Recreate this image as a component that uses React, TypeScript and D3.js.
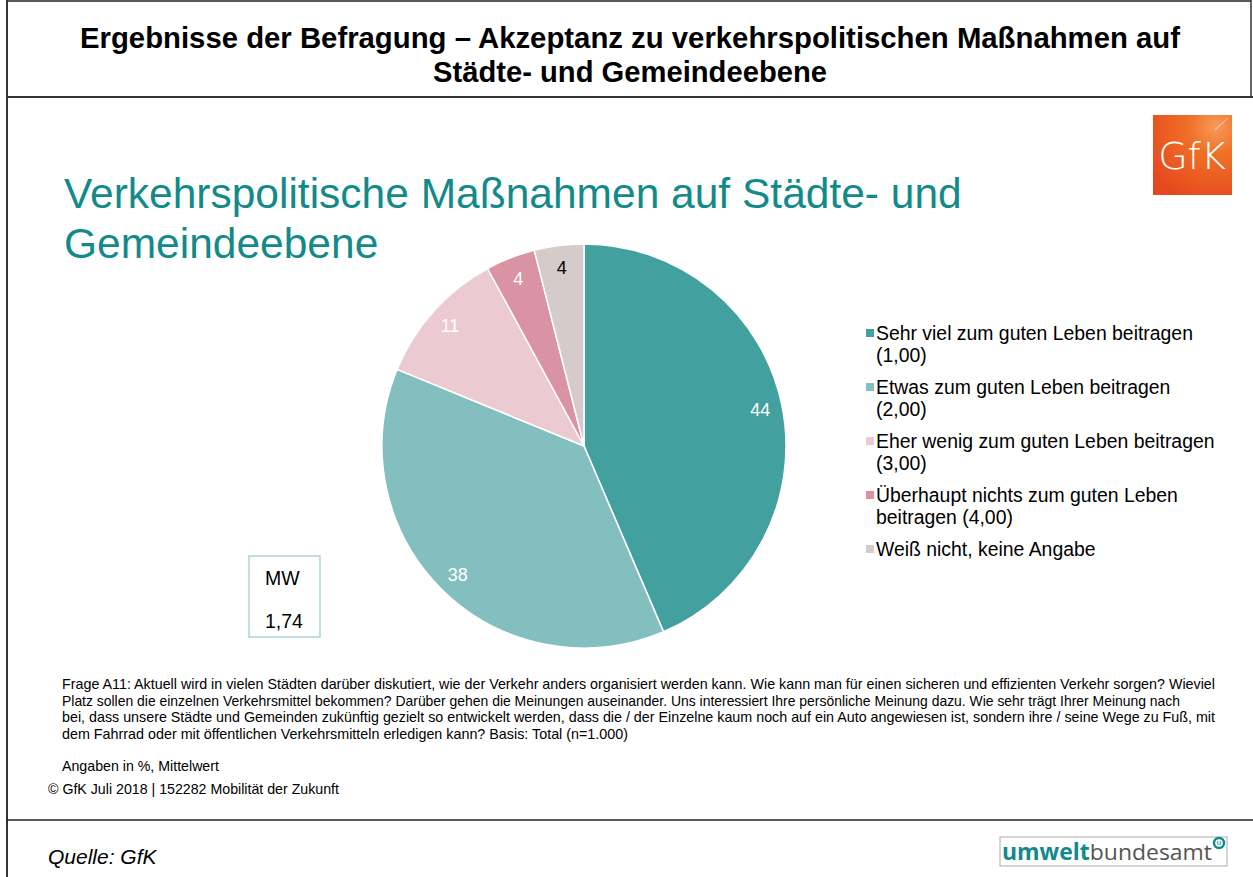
import React from 'react';
import * as d3 from 'd3';

const width: number = 1253;
const height: number = 877;

// Survey answers, in %
const categories: string[] = [
  "Sehr viel zum guten Leben beitragen (1,00)",
  "Etwas zum guten Leben beitragen (2,00)",
  "Eher wenig zum guten Leben beitragen (3,00)",
  "Überhaupt nichts zum guten Leben beitragen (4,00)",
  "Weiß nicht, keine Angabe",
];
const values: number[] = [44, 38, 11, 4, 4];
const legendLines: string[][] = [
  ["Sehr viel zum guten Leben beitragen", "(1,00)"],
  ["Etwas zum guten Leben beitragen", "(2,00)"],
  ["Eher wenig zum guten Leben beitragen", "(3,00)"],
  ["Überhaupt nichts zum guten Leben", "beitragen (4,00)"],
  ["Weiß nicht, keine Angabe"],
];
const colors: string[] = ["#42A09F", "#84BFBF", "#EBCAD1", "#D993A3", "#D5CBCA"];
const labelColors: string[] = ["#ffffff", "#ffffff", "#ffffff", "#ffffff", "#000000"];
const meanValue: string = "1,74";

const titleLines: string[] = [
  "Ergebnisse der Befragung – Akzeptanz zu verkehrspolitischen Maßnahmen auf",
  "Städte- und Gemeindeebene",
];
const subtitleLines: string[] = ["Verkehrspolitische Maßnahmen auf Städte- und", "Gemeindeebene"];
const noteLines: string[] = [
  "Frage A11: Aktuell wird in vielen Städten darüber diskutiert, wie der Verkehr anders organisiert werden kann. Wie kann man für einen sicheren und effizienten Verkehr sorgen? Wieviel",
  "Platz sollen die einzelnen Verkehrsmittel bekommen? Darüber gehen die Meinungen auseinander. Uns interessiert Ihre persönliche Meinung dazu. Wie sehr trägt Ihrer Meinung nach",
  "bei, dass unsere Städte und Gemeinden zukünftig gezielt so entwickelt werden, dass die / der Einzelne kaum noch auf ein Auto angewiesen ist, sondern ihre / seine Wege zu Fuß, mit",
  "dem Fahrrad oder mit öffentlichen Verkehrsmitteln erledigen kann? Basis: Total (n=1.000)",
];
const noteWidths: number[] = [1153, 1118, 1153, 566];

const font = "'Liberation Sans', Arial, sans-serif";

export default function App() {
  const cx = 584;
  const cy = 446;
  const radius = 202;

  const pie = d3.pie<number>().sort(null).value((d) => d);
  const arcs = pie(values);
  const arc = d3.arc<d3.PieArcDatum<number>>().innerRadius(0).outerRadius(radius);
  const labelArc = d3.arc<d3.PieArcDatum<number>>().innerRadius(180).outerRadius(180);

  const legendY = d3.scaleLinear().domain([0, 1]).range([333, 387]);

  return (
    <div style={{ position: 'fixed', left: 0, top: 0 }}>
      <svg width={width} height={height} viewBox={`0 0 ${width} ${height}`} style={{ display: 'block', background: '#fff' }}>
        <defs>
          <radialGradient id="gfkGrad" cx="0.8" cy="0.15" r="1">
            <stop offset="0" stopColor="#F79A5C" />
            <stop offset="0.35" stopColor="#F07026" />
            <stop offset="1" stopColor="#E5481E" />
          </radialGradient>
        </defs>

        {/* frame */}
        <line x1={7} y1={1} x2={1251} y2={1} stroke="#222" strokeWidth={1.5} />
        <line x1={7} y1={0} x2={7} y2={height} stroke="#333" strokeWidth={2} />
        <line x1={1251} y1={0} x2={1251} y2={97} stroke="#333" strokeWidth={1.5} />
        <line x1={7} y1={97} x2={width} y2={97} stroke="#333" strokeWidth={2} />
        <line x1={7} y1={820} x2={width} y2={820} stroke="#222" strokeWidth={1.5} />

        {/* header */}
        {titleLines.map((t, i) => (
          <text key={i} x={630} y={48 + i * 34} textAnchor="middle" fontFamily={font} fontWeight="bold" fontSize={29} fill="#000"
            textLength={i === 0 ? 1100 : 394} lengthAdjust="spacingAndGlyphs">
            {t}
          </text>
        ))}

        {/* GfK logo */}
        <rect x={1153} y={115} width={79} height={80} fill="url(#gfkGrad)" />
        <line x1={1215} y1={130} x2={1228} y2={118} stroke="#fff" strokeOpacity={0.6} strokeWidth={1} />
        <text x={1192} y={169} textAnchor="middle" fontFamily="'DejaVu Sans', sans-serif" fontWeight={200} fontSize={38} fill="#fff">
          GfK
        </text>

        {/* subtitle */}
        {subtitleLines.map((t, i) => (
          <text key={i} x={64} y={208 + i * 50} fontFamily={font} fontSize={42.5} fill="#138A8A">
            {t}
          </text>
        ))}

        {/* pie */}
        <g transform={`translate(${cx},${cy})`}>
          {arcs.map((a, i) => (
            <path key={i} d={arc(a) || ''} fill={colors[i]} stroke="#fff" strokeWidth={1.5} />
          ))}
          {arcs.map((a, i) => {
            const [lx, ly] = labelArc.centroid(a);
            return (
              <text key={'l' + i} x={lx} y={ly} dy="0.35em" textAnchor="middle" fontFamily={font} fontSize={18} fill={labelColors[i]}>
                {values[i]}
              </text>
            );
          })}
        </g>

        {/* legend */}
        {legendLines.map((lines, i) => (
          <g key={i} transform={`translate(866,${legendY(i)})`}>
            <title>{categories[i]}</title>
            <rect x={0} y={-4} width={8} height={8} fill={colors[i]} />
            {lines.map((l, j) => (
              <text key={j} x={10} y={j * 22} dy="0.35em" fontFamily={font} fontSize={19.4} fill="#000">
                {l}
              </text>
            ))}
          </g>
        ))}

        {/* mean value box */}
        <rect x={249} y={556} width={71} height={81} fill="#fff" stroke="#A9D6D6" strokeWidth={1.5} />
        <text x={265} y={578} dy="0.35em" fontFamily={font} fontSize={19.5} fill="#000">MW</text>
        <text x={265} y={621} dy="0.35em" fontFamily={font} fontSize={19.5} fill="#000">{meanValue}</text>

        {/* notes */}
        {noteLines.map((t, i) => (
          <text
            key={i}
            x={62}
            y={684 + i * 16.7}
            dy="0.35em"
            fontFamily={font}
            fontSize={14.2}
            fill="#000"
            textLength={noteWidths[i]}
            lengthAdjust="spacingAndGlyphs"
          >
            {t}
          </text>
        ))}
        <text x={62} y={766} dy="0.35em" fontFamily={font} fontSize={14.2} fill="#000">Angaben in %, Mittelwert</text>
        <text x={48} y={789} dy="0.35em" fontFamily={font} fontSize={14.2} fill="#000">© GfK Juli 2018 | 152282 Mobilität der Zukunft</text>

        {/* footer */}
        <text x={48} y={857} dy="0.35em" fontFamily={font} fontStyle="italic" fontSize={21} fill="#000">Quelle: GfK</text>
        <rect x={1000} y={837} width={227} height={29} fill="#fff" stroke="#aaa" strokeWidth={1} />
        <text x={1002} y={860} fontFamily="'Open Sans', 'DejaVu Sans', sans-serif" fontSize={22.5} fill="#555" textLength={210} lengthAdjust="spacingAndGlyphs">
          <tspan fontWeight="bold" fill="#138A8A">umwelt</tspan>
          <tspan fill="#555">bundesamt</tspan>
        </text>
        <circle cx={1219} cy={843} r={5} fill="none" stroke="#138A8A" strokeWidth={2.5} />
        <text x={1219} y={843} dy="0.35em" textAnchor="middle" fontFamily={font} fontWeight="bold" fontSize={6} fill="#138A8A">U</text>
      </svg>
    </div>
  );
}
